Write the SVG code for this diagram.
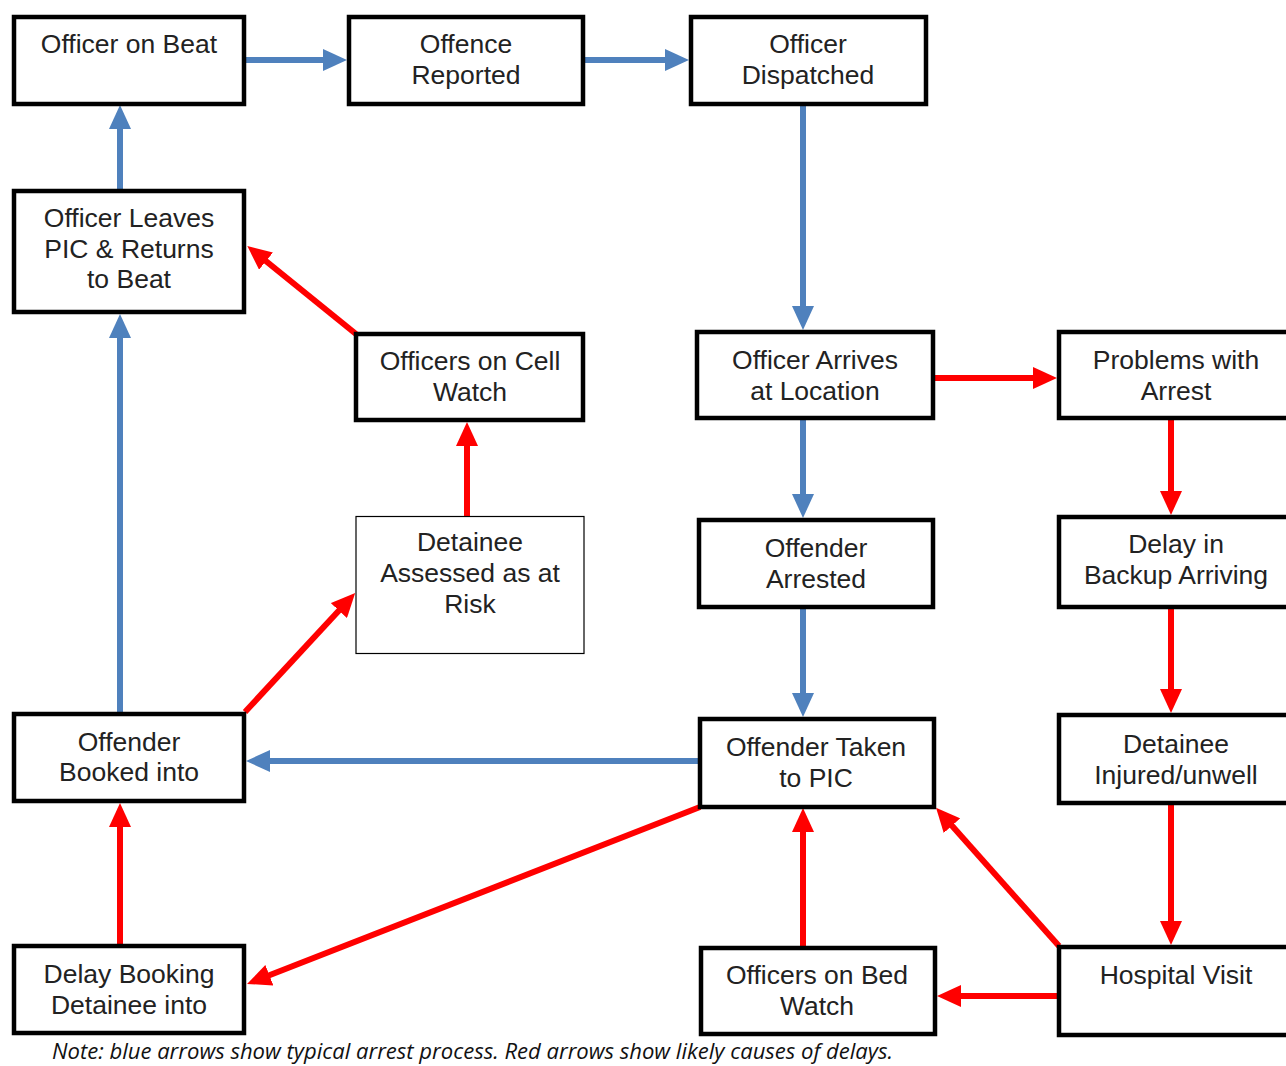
<svg xmlns="http://www.w3.org/2000/svg" width="1286" height="1066" viewBox="0 0 1286 1066">
<defs>
<style>
.box{fill:#fff;stroke:#000;stroke-width:4.5}
.thin{fill:#fff;stroke:#000;stroke-width:1.2}
.t{font-family:"Liberation Sans",Arial,sans-serif;font-size:26.5px;fill:#222;text-anchor:middle}
.b{stroke:#4F81BD;stroke-width:6;fill:none;marker-end:url(#ab)}
.r{stroke:#FF0000;stroke-width:6;fill:none;marker-end:url(#ar)}
.note{font-family:"Open Sans","Liberation Sans",sans-serif;font-style:italic;font-size:21px;fill:#111}
</style>
<marker id="ab" viewBox="0 0 24 22" refX="9" refY="11" markerWidth="24" markerHeight="22" markerUnits="userSpaceOnUse" orient="auto"><path d="M0,0L24,11L0,22z" fill="#4F81BD"/></marker>
<marker id="ar" viewBox="0 0 24 22" refX="9" refY="11" markerWidth="24" markerHeight="22" markerUnits="userSpaceOnUse" orient="auto"><path d="M0,0L24,11L0,22z" fill="#FF0000"/></marker>
</defs>
<rect width="1286" height="1066" fill="#fff"/>
<g id="connectors">
<line class="b" x1="246" y1="60" x2="332" y2="60"/>
<line class="b" x1="585" y1="60" x2="674" y2="60"/>
<line class="b" x1="803" y1="105" x2="803" y2="315"/>
<line class="b" x1="803" y1="420" x2="803" y2="503"/>
<line class="b" x1="803" y1="609" x2="803" y2="702"/>
<line class="b" x1="699" y1="761" x2="261" y2="761"/>
<line class="b" x1="120" y1="712" x2="120" y2="329"/>
<line class="b" x1="120" y1="189" x2="120" y2="120"/>
<line class="r" x1="935" y1="378" x2="1042" y2="378"/>
<line class="r" x1="1171" y1="420" x2="1171" y2="500"/>
<line class="r" x1="1171" y1="609" x2="1171" y2="698"/>
<line class="r" x1="1171" y1="805" x2="1171" y2="930"/>
<line class="r" x1="1057" y1="996" x2="952" y2="996"/>
<line class="r" x1="803" y1="946" x2="803" y2="823"/>
<line class="r" x1="1059" y1="946" x2="946" y2="819"/>
<line class="r" x1="700" y1="807" x2="261" y2="978.5"/>
<line class="r" x1="120" y1="944" x2="120" y2="818"/>
<line class="r" x1="245" y1="712" x2="345" y2="604"/>
<line class="r" x1="467" y1="516" x2="467" y2="437"/>
<line class="r" x1="356" y1="334" x2="259" y2="255.5"/>
</g>
<g id="n1"><rect class="box" x="14" y="17" width="230" height="87"/><text class="t" x="129" y="53">Officer on Beat</text></g>
<g id="n2"><rect class="box" x="349" y="17" width="234" height="87"/><text class="t" x="466" y="53">Offence</text><text class="t" x="466" y="84">Reported</text></g>
<g id="n3"><rect class="box" x="691" y="17" width="235" height="87"/><text class="t" x="808" y="53">Officer</text><text class="t" x="808" y="84">Dispatched</text></g>
<g id="n4"><rect class="box" x="14" y="191" width="230" height="121"/><text class="t" x="129" y="227">Officer Leaves</text><text class="t" x="129" y="258">PIC &amp; Returns</text><text class="t" x="129" y="288">to Beat</text></g>
<g id="n5"><rect class="box" x="356" y="334" width="227" height="86"/><text class="t" x="470" y="370">Officers on Cell</text><text class="t" x="470" y="401">Watch</text></g>
<g id="n6"><rect class="box" x="697" y="332" width="236" height="86"/><text class="t" x="815" y="369">Officer Arrives</text><text class="t" x="815" y="400">at Location</text></g>
<g id="n7"><rect class="box" x="1059" y="332" width="260" height="86"/><text class="t" x="1176" y="369">Problems with</text><text class="t" x="1176" y="400">Arrest</text></g>
<g id="n8"><rect class="thin" x="356" y="516.5" width="228" height="137"/><text class="t" x="470" y="551">Detainee</text><text class="t" x="470" y="582">Assessed as at</text><text class="t" x="470" y="613">Risk</text></g>
<g id="n9"><rect class="box" x="699" y="520" width="234" height="87"/><text class="t" x="816" y="557">Offender</text><text class="t" x="816" y="588">Arrested</text></g>
<g id="n10"><rect class="box" x="1059" y="517" width="260" height="90"/><text class="t" x="1176" y="553">Delay in</text><text class="t" x="1176" y="584">Backup Arriving</text></g>
<g id="n11"><rect class="box" x="14" y="714" width="230" height="87"/><text class="t" x="129" y="751">Offender</text><text class="t" x="129" y="781">Booked into</text></g>
<g id="n12"><rect class="box" x="700" y="719" width="234" height="88"/><text class="t" x="816" y="756">Offender Taken</text><text class="t" x="816" y="787">to PIC</text></g>
<g id="n13"><rect class="box" x="1059" y="715" width="260" height="88"/><text class="t" x="1176" y="753">Detainee</text><text class="t" x="1176" y="784">Injured/unwell</text></g>
<g id="n14"><rect class="box" x="14" y="946" width="230" height="87"/><text class="t" x="129" y="983">Delay Booking</text><text class="t" x="129" y="1014">Detainee into</text></g>
<g id="n15"><rect class="box" x="701" y="948" width="234" height="86"/><text class="t" x="817" y="984">Officers on Bed</text><text class="t" x="817" y="1015">Watch</text></g>
<g id="n16"><rect class="box" x="1059" y="947" width="260" height="88"/><text class="t" x="1176" y="984">Hospital Visit</text></g>
<text class="note" x="52" y="1059" textLength="841" lengthAdjust="spacingAndGlyphs">Note: blue arrows show typical arrest process. Red arrows show likely causes of delays.</text>
</svg>
